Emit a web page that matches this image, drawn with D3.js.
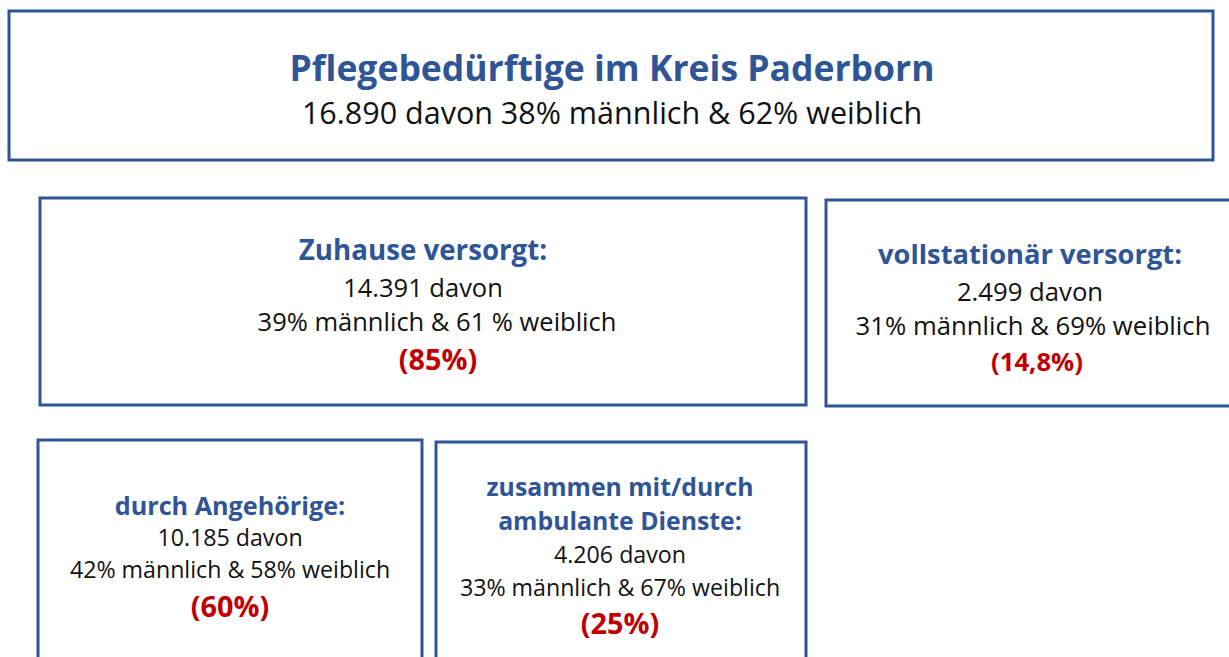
<!DOCTYPE html>
<html>
<head>
<meta charset="utf-8">
<script src="https://cdn.jsdelivr.net/npm/d3@7"></script>
<style>
  html, body { margin: 0; padding: 0; background: #fff; }
  svg { display: block; font-family: "Open Sans", "Noto Sans", sans-serif; }
</style>
</head>
<body>
<svg id="chart" width="1229" height="657"></svg>
<script>
// --- DATA ---
const titles = ["Pflegebedürftige im Kreis Paderborn", "Zuhause versorgt:", "vollstationär versorgt:", "durch Angehörige:", "zusammen mit/durch|ambulante Dienste:"];
const totals = ["16.890", "14.391", "2.499", "10.185", "4.206"];
const maleShares = ["38%", "39%", "31%", "42%", "33%"];
const femaleShares = ["62%", "61 %", "69%", "58%", "67%"];
const shares = [null, "85%", "14,8%", "60%", "25%"];

// --- LAYOUT ---
const W = 1229, H = 657;
const blue = "#2F5597", red = "#C00000";

// box frames [x0, y0, x1, y1]; text centre x, line centres y, sizes, x shifts per line
const boxes = [
  { r: [9, 11, 1213, 160],   cx: 612,  titleY: [67],       titleSize: 35.5, bodyY: [112],      bodySize: 30.5, bodyDx: [0], oneLine: true },
  { r: [40, 198, 806, 405],  cx: 423,  titleY: [249],      titleSize: 27.7, bodyY: [287, 321], bodySize: 25.5, bodyDx: [0, 14], shareY: 358, shareSize: 28.8, shareDx: 15 },
  { r: [826, 200, 1233, 406], cx: 1030, titleY: [253],     titleSize: 27.3, bodyY: [291, 325], bodySize: 25.7, bodyDx: [0, 3],  shareY: 361, shareSize: 25.7, shareDx: 7 },
  { r: [38, 440, 422, 662],  cx: 230,  titleY: [505],      titleSize: 25.2, bodyY: [537, 569], bodySize: 23.2, bodyDx: [0, 0],  shareY: 605, shareSize: 28.8, shareDx: 0 },
  { r: [436, 442, 806, 662], cx: 620,  titleY: [486, 520], titleSize: 24.8, bodyY: [554, 587], bodySize: 23.2, bodyDx: [0, 0],  shareY: 622, shareSize: 28.8, shareDx: 0 }
];

const svg = d3.select("#chart");
svg.append("rect").attr("width", W).attr("height", H).attr("fill", "#fff");

const g = svg.selectAll("g.box")
  .data(boxes)
  .join("g")
  .attr("class", "box");

g.append("rect")
  .attr("x", d => d.r[0])
  .attr("y", d => d.r[1])
  .attr("width", d => d.r[2] - d.r[0])
  .attr("height", d => d.r[3] - d.r[1])
  .attr("fill", "none")
  .attr("stroke", blue)
  .attr("stroke-width", 3);

g.each(function(d, i) {
  const el = d3.select(this);
  titles[i].split("|").forEach((line, k) => {
    el.append("text")
      .attr("x", d.cx).attr("y", d.titleY[k])
      .attr("text-anchor", "middle")
      .attr("dominant-baseline", "central")
      .attr("font-weight", "bold")
      .attr("font-size", d.titleSize)
      .attr("fill", blue)
      .text(line);
  });

  const bodyLines = d.oneLine
    ? [`${totals[i]} davon ${maleShares[i]} männlich & ${femaleShares[i]} weiblich`]
    : [`${totals[i]} davon`, `${maleShares[i]} männlich & ${femaleShares[i]} weiblich`];

  bodyLines.forEach((line, k) => {
    el.append("text")
      .attr("x", d.cx + d.bodyDx[k]).attr("y", d.bodyY[k])
      .attr("text-anchor", "middle")
      .attr("dominant-baseline", "central")
      .attr("font-size", d.bodySize)
      .attr("fill", "#111")
      .text(line);
  });

  if (shares[i]) {
    el.append("text")
      .attr("x", d.cx + d.shareDx).attr("y", d.shareY)
      .attr("text-anchor", "middle")
      .attr("dominant-baseline", "central")
      .attr("font-weight", "bold")
      .attr("font-size", d.shareSize)
      .attr("fill", red)
      .text(`(${shares[i]})`);
  }
});
</script>
</body>
</html>
